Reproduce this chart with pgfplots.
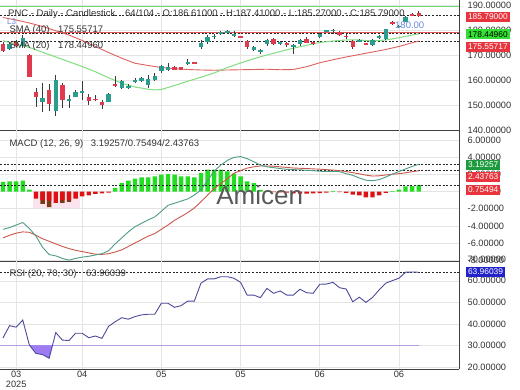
\documentclass[border=0pt]{standalone}
\usepackage{pgfplots}
\pgfplotsset{compat=1.18}
\usepackage{pgfplotstable}
\usepackage{fontspec}
\setmainfont{Liberation Sans}

\definecolor{txt}{HTML}{333333}
\definecolor{gridc}{HTML}{E4E4E4}
\definecolor{upc}{HTML}{2A9D8F}
\definecolor{downc}{HTML}{E03A4E}
\definecolor{wick}{HTML}{3A3A3A}
\definecolor{smaA}{HTML}{80DD80}
\definecolor{smaB}{HTML}{E06060}
\definecolor{hgreen}{HTML}{70DD70}
\definecolor{hred}{HTML}{E05555}
\definecolor{boxred}{HTML}{E8343C}
\definecolor{boxgreen}{HTML}{33E033}
\definecolor{boxdkgreen}{HTML}{1E9A3E}
\definecolor{boxblue}{HTML}{2222CC}
\definecolor{histg}{HTML}{22DD22}
\definecolor{histr}{HTML}{DD1111}
\definecolor{histbr}{HTML}{7A3A14}
\definecolor{pinkbg}{HTML}{FCE4EF}
\definecolor{macdc}{HTML}{4F9C86}
\definecolor{sigc}{HTML}{C9574A}
\definecolor{rsic}{HTML}{4B4A9C}
\definecolor{rsifill}{HTML}{9C7CF0}
\definecolor{rsiline}{HTML}{B49EE0}
\definecolor{lblue}{HTML}{6A8AE0}

\newcommand\fs{\fontsize{9.5}{10}\selectfont}
\newcommand\ft{\fontsize{9.2}{10}\selectfont}
\newcommand\fb{\fontsize{8.4}{9}\selectfont}

\pgfplotstableread{
i o h l c
1 172.5 175.2 172.0 174.5
3 173.6 177.8 173.3 176.9
6 151.0 158.7 147.2 152.9
8 147.4 161.8 145.4 159.8
10 151.6 153.9 148.8 152.4
11 153.3 156.1 153.0 155.3
12 155.1 159.6 152.0 155.4
16 151.3 154.6 151.0 154.2
18 156.8 160.0 156.2 159.4
19 157.0 158.2 156.3 157.5
20 159.4 160.6 158.9 159.8
21 159.4 161.3 159.1 160.9
22 158.1 162.0 156.7 160.5
23 160.1 162.7 159.4 161.4
24 163.4 166.1 162.7 165.4
25 164.1 166.9 163.7 165.0
28 166.3 168.4 166.0 167.0
30 173.0 176.0 172.5 174.9
31 175.2 177.8 174.2 177.3
32 177.3 178.5 176.4 177.7
33 178.3 179.5 177.8 179.1
34 179.2 179.9 178.9 179.3
35 177.5 179.5 177.3 178.3
38 172.0 173.5 171.6 173.0
39 171.2 172.5 170.5 172.0
40 174.2 176.2 173.6 175.8
42 174.5 175.6 173.8 175.2
44 173.4 174.5 170.2 173.8
45 174.2 176.5 173.6 175.8
48 177.3 178.6 176.9 178.2
49 179.6 180.1 179.1 179.8
50 179.8 180.4 178.5 180.0
54 175.4 176.3 175.0 175.9
56 173.9 176.3 173.5 175.9
57 176.8 177.8 176.5 177.5
58 176.3 180.5 175.9 180.2
60 181.3 182.0 180.8 181.7
61 183.2 185.4 183.0 185.2
}\upcandles

\pgfplotstableread{
i o h l c
0 174.3 175.0 171.1 171.7
2 175.0 175.8 173.0 173.5
4 170.0 170.3 161.0 161.3
5 155.3 156.8 149.2 153.1
7 156.0 158.5 147.4 150.3
9 157.9 158.7 148.8 152.0
13 153.3 154.3 150.0 151.6
14 152.3 153.9 151.7 152.1
15 151.3 152.0 148.4 150.0
17 158.2 161.5 157.1 157.9
26 165.3 165.6 163.8 164.0
27 165.1 165.3 163.8 164.0
29 167.1 167.3 166.7 166.8
36 177.4 177.7 176.9 177.2
37 175.5 175.8 172.5 173.0
41 176.2 176.6 173.8 174.2
43 174.6 175.2 173.1 174.4
46 176.4 177.1 174.8 174.9
47 175.0 175.3 173.9 174.8
51 179.2 179.5 177.5 177.9
52 177.6 178.2 176.2 177.4
53 175.5 175.9 172.5 173.0
55 174.7 174.9 174.1 174.4
59 183.2 183.6 181.8 182.2
62 186.3 186.8 185.6 185.9
63 186.61 187.41 185.27 185.79
}\downcandles

\tikzset{
  vbox/.style={anchor=west, xshift=6.8pt, font=\fb, inner xsep=2pt, inner ysep=1.6pt, text height=6.1pt, text depth=0.4pt},
  dots/.style={draw=black!85, line width=0.9pt, dash pattern=on 2pt off 1.6pt},
  captxt/.style={anchor=base west, inner sep=0pt, font=\fs, text=txt},
}

\pgfplotsset{
  panel/.style={
    scale only axis, width=459pt, anchor=south west,
    xmin=-0.45, xmax=69.1,
    axis x line*=bottom, axis y line*=right,
    axis line style={-, draw=black!75, line width=0.8pt},
    xtick={2,12,24,36,48,60},
    xmajorgrids, ymajorgrids,
    grid style={draw=gridc, line width=0.6pt},
    major tick length=0pt,
    tick label style={font=\ft, color=txt},
    yticklabel style={anchor=west, inner sep=0pt, xshift=8.5pt},
    yticklabel={\pgfmathprintnumber[fixed,fixed zerofill,precision=5,1000 sep={},assume math mode=true]{\tick}},
    clip mode=individual,
  },
}

\begin{document}
\begin{tikzpicture}
\useasboundingbox (0pt,0pt) rectangle (520pt,390pt);
\fill[white] (0pt,0pt) rectangle (520pt,390pt);

% ---------------- main price panel
\begin{axis}[panel, at={(0pt,260pt)}, height=130pt,
  ymin=140, ymax=192, ytick={140,150,...,190}, xticklabels={},
  after end axis/.code={
    \node[vbox, fill=boxred, text=white] at (axis cs:69.1,185.2) {185.79000};
    \node[vbox, fill=boxgreen, text=black] at (axis cs:69.1,178.3) {178.44960};
    \node[vbox, fill=boxred, text=white] at (axis cs:69.1,173.3) {175.55717};
  }]
\addplot[hgreen, line width=0.9pt, mark=none] coordinates {(-0.45,189.6) (69.1,189.6)};
\addplot[hred, line width=0.9pt, mark=none] coordinates {(-0.45,179.1) (69.1,179.1)};
\addplot[dots, mark=none] coordinates {(-0.45,185.79) (69.1,185.79)};
\addplot[dots, mark=none] coordinates {(-0.45,178.4496) (69.1,178.4496)};
\addplot[dots, mark=none] coordinates {(-0.45,175.55717) (69.1,175.55717)};
% SMA 40
\addplot[smaB, line width=0.9pt, mark=none] coordinates {
(0,185.0) (2,184.0) (4,182.8) (6,181.4) (8,179.7) (10,178.0) (12,175.8) (14,173.4)
(16,171.0) (18,168.7) (20,166.7) (22,165.8) (24,165.0) (26,164.5) (28,164.2) (30,164.0)
(32,163.9) (34,164.0) (36,164.1) (38,164.2) (40,164.3) (42,164.1) (44,164.2) (46,165.3)
(48,166.9) (50,168.1) (52,169.2) (54,170.2) (56,171.2) (58,172.2) (60,173.4) (62,174.9) (63,175.55717)};
% SMA 20
\addplot[smaA, line width=1pt, mark=none] coordinates {
(0,175.7) (2,174.3) (4,173.0) (6,171.1) (8,169.2) (10,167.3) (12,165.4) (14,163.3)
(16,160.9) (18,158.7) (20,157.2) (22,156.3) (23,156.0) (24,156.2) (26,157.8) (28,159.5)
(30,161.1) (32,162.8) (34,165.0) (36,166.8) (38,168.5) (40,170.0) (42,171.4) (44,172.7)
(46,173.9) (48,175.0) (50,175.6) (52,176.0) (54,176.0) (56,175.6) (58,176.0) (60,176.9) (62,178.0) (63,178.4496)};
% wicks
\addplot[forget plot, draw=none, mark=none, error bars/.cd, y dir=both, y explicit, error mark=none,
  error bar style={line width=0.9pt, draw=wick}]
  table[x=i, y expr=(\thisrow{h}+\thisrow{l})/2, y error expr=(\thisrow{h}-\thisrow{l})/2] {\upcandles};
\addplot[forget plot, draw=none, mark=none, error bars/.cd, y dir=both, y explicit, error mark=none,
  error bar style={line width=0.9pt, draw=wick}]
  table[x=i, y expr=(\thisrow{h}+\thisrow{l})/2, y error expr=(\thisrow{h}-\thisrow{l})/2] {\downcandles};
% bodies
\addplot[forget plot, draw=none, mark=none, error bars/.cd, y dir=both, y explicit, error mark=none,
  error bar style={line width=4.4pt, draw=upc}]
  table[x=i, y expr=(\thisrow{o}+\thisrow{c})/2, y error expr={max(abs(\thisrow{c}-\thisrow{o})/2,0.22)}] {\upcandles};
\addplot[forget plot, draw=none, mark=none, error bars/.cd, y dir=both, y explicit, error mark=none,
  error bar style={line width=4.4pt, draw=downc}]
  table[x=i, y expr=(\thisrow{o}+\thisrow{c})/2, y error expr={max(abs(\thisrow{c}-\thisrow{o})/2,0.22)}] {\downcandles};
\end{axis}

% ---------------- MACD panel
\begin{axis}[panel, at={(0pt,129pt)}, height=131pt,
  ymin=-8.1, ymax=7.2, ytick={-8,-6,...,6}, xticklabels={},
  after end axis/.code={
    \node[font=\fontsize{26}{28}\selectfont, text=black!65] at (axis cs:38.9,-0.45) {Amicen};
    \node[vbox, fill=boxdkgreen, text=white] at (axis cs:69.1,3.11) {3.19257};
    \node[vbox, fill=boxred, text=white] at (axis cs:69.1,1.75) {2.43763};
    \node[vbox, fill=boxred, text=white] at (axis cs:69.1,0.19) {0.75494};
  }]
\addplot[fill=pinkbg, draw=none, mark=none] coordinates {(4.6,0) (4.6,-1.87) (11.6,-1.87) (11.6,0)};
\addplot[ybar, bar width=4.4pt, bar shift=0pt, fill=histg, draw=none] coordinates {
(0,1.13) (1,1.2) (2,1.2) (3,1.28) (4,0.23) (17,0.43) (18,1.0) (19,1.28) (20,1.51) (21,1.66)
(22,1.66) (23,1.78) (24,1.98) (25,2.05) (26,1.98) (27,1.78) (28,1.78) (29,1.66) (30,2.17)
(31,2.56) (32,2.56) (33,2.56) (34,2.36) (35,2.1) (36,1.78) (37,1.2) (38,1.0) (39,0.2) (40,0.1)
(50,0.08) (59,0.05) (60,0.25) (61,0.62) (62,0.65) (63,0.75494)};
\addplot[ybar, bar width=4.4pt, bar shift=0pt, fill=histbr, draw=none] coordinates {
(6,-1.43) (7,-1.82) (9,-1.32) (10,-1.2)};
\addplot[ybar, bar width=4.4pt, bar shift=0pt, fill=histr, draw=none] coordinates {
(5,-0.81) (6,-1.0) (7,-1.05) (8,-1.32) (9,-1.0) (10,-1.0) (11,-0.81) (12,-0.54) (13,-0.43)
(14,-0.27) (15,-0.2) (16,-0.1) (41,-0.05) (42,-0.08) (43,-0.1) (44,-0.2) (45,-0.22) (46,-0.22)
(47,-0.2) (48,-0.18) (49,-0.1) (51,-0.05) (52,-0.15) (53,-0.35) (54,-0.45) (55,-0.68)
(56,-0.68) (57,-0.45) (58,-0.15)};
\addplot[dots, mark=none] coordinates {(-0.45,3.19257) (69.1,3.19257)};
\addplot[dots, mark=none] coordinates {(-0.45,2.43763) (69.1,2.43763)};
\addplot[dots, mark=none] coordinates {(-0.45,0.75494) (69.1,0.75494)};
% signal
\addplot[sigc, line width=0.9pt, mark=none] coordinates {
(0,-5.4) (1,-5.1) (2,-4.85) (3,-4.7) (4,-4.75) (5,-5.1) (6,-5.5) (7,-5.8) (8,-6.1) (9,-6.4)
(10,-6.65) (11,-6.85) (12,-7.0) (13,-7.15) (14,-7.3) (15,-7.33) (16,-7.25) (17,-7.05) (18,-6.8)
(19,-6.4) (20,-6.0) (21,-5.6) (22,-5.2) (23,-4.9) (24,-4.4) (25,-3.9) (26,-3.35) (27,-2.9)
(28,-2.45) (29,-1.9) (30,-1.2) (31,-0.4) (32,0.35) (33,0.95) (34,1.5) (35,2.15) (36,2.45)
(37,2.75) (38,2.9) (39,3.0) (40,3.0) (41,2.97) (42,2.9) (43,2.83) (44,2.76) (45,2.73) (46,2.7)
(47,2.66) (48,2.62) (49,2.57) (50,2.52) (51,2.45) (52,2.35) (53,2.22) (54,2.08) (55,1.93)
(56,1.82) (57,1.85) (58,1.95) (59,2.03) (60,2.1) (61,2.2) (62,2.33) (63,2.43763)};
% MACD
\addplot[macdc, line width=0.9pt, mark=none] coordinates {
(0,-4.4) (1,-4.2) (2,-3.9) (3,-3.6) (4,-4.3) (5,-5.2) (6,-6.5) (7,-7.35) (8,-7.5) (9,-7.8)
(10,-8.0) (11,-7.8) (12,-7.65) (13,-7.55) (14,-7.4) (15,-7.25) (16,-6.9) (17,-6.1) (18,-5.4)
(19,-4.7) (20,-4.1) (21,-3.7) (22,-3.3) (23,-2.95) (24,-2.3) (25,-1.6) (26,-1.35) (27,-1.1)
(28,-0.85) (29,-0.4) (30,0.2) (31,1.3) (32,2.4) (33,3.1) (34,3.65) (35,4.0) (36,4.1) (37,3.85)
(38,3.5) (39,3.1) (40,2.9) (41,2.8) (42,2.7) (43,2.6) (44,2.57) (45,2.55) (46,2.5) (47,2.45)
(48,2.38) (49,2.36) (50,2.36) (51,2.34) (52,2.1) (53,1.9) (54,1.6) (55,1.33) (56,1.28) (57,1.4)
(58,1.7) (59,2.05) (60,2.35) (61,2.65) (62,2.95) (63,3.19257)};
\end{axis}

% ---------------- RSI panel
\begin{axis}[panel, at={(0pt,21pt)}, height=108pt,
  ymin=19.1, ymax=69.2, ytick={20,30,...,60},
  xticklabels={{03\\2025},04,05,05,06,06},
  xticklabel style={align=center, anchor=north, inner sep=2pt, font=\ft, color=txt},
  after end axis/.code={
    \node[anchor=west, inner sep=0pt, xshift=8.5pt, font=\ft, text=txt] at (axis cs:69.1,70) {70.00000};
    \node[vbox, fill=boxblue, text=white] at (axis cs:69.1,64.1) {63.96039};
  }]
\addplot[rsiline, line width=1.3pt, mark=none] coordinates {(-0.45,30) (63,30)};
\addplot[fill=rsifill, draw=none, mark=none] coordinates {(4.05,30) (5,26.3) (6,25.8) (7,24.1) (7.49,30)};
\addplot[dots, mark=none] coordinates {(-0.45,63.96039) (69.1,63.96039)};
\addplot[rsic, line width=0.9pt, mark=none] coordinates {
(0,33.5) (1,39.2) (2,38.5) (3,41.8) (4,30.2) (5,26.3) (6,25.8) (7,24.1) (8,36.0) (9,32.5)
(10,32.3) (11,35.7) (12,35.7) (13,33.6) (14,34.4) (15,33.3) (16,38.9) (17,41.0) (18,42.9)
(19,42.2) (20,43.4) (21,44.2) (22,44.5) (23,44.5) (24,49.6) (25,49.6) (26,47.7) (27,48.5)
(28,50.6) (29,50.6) (30,58.9) (31,60.9) (32,60.9) (33,61.9) (34,61.9) (35,61.2) (36,59.3)
(37,53.4) (38,53.4) (39,52.2) (40,56.5) (41,54.2) (42,55.3) (43,53.4) (44,53.4) (45,56.1)
(46,54.5) (47,54.2) (48,58.4) (49,58.5) (50,59.3) (51,56.8) (52,56.2) (53,50.3) (54,52.4)
(55,50.0) (56,52.3) (57,55.8) (58,58.9) (59,60.1) (60,61.2) (61,64.0) (62,64.1) (63,63.96039)};
\end{axis}

% ---------------- panel captions
\node[captxt] at (8pt,373.5pt) {PNC - Daily - Candlestick};
\node[captxt] at (125pt,373.5pt) {64/104 - O:186.61000 - H:187.41000 - L:185.27000 - C:185.79000};
\node[captxt, font=\fontsize{8}{9}\selectfont, text=lblue] at (7pt,365pt) {L3};
\node[captxt] at (9.3pt,357.2pt) {SMA (40)};
\node[captxt] at (58pt,357.2pt) {175.55717};
\node[captxt] at (9.3pt,341pt) {SMA (20)};
\node[captxt] at (58pt,341pt) {178.44960};
\node[captxt, text=lblue] at (395pt,361.7pt) {180.00};
\node[captxt] at (9.3pt,243.7pt) {MACD (12, 26, 9)};
\node[captxt] at (90.7pt,243.7pt) {3.19257/0.75494/2.43763};
\node[captxt] at (9.3pt,113pt) {RSI (20, 70, 30)};
\node[captxt] at (86pt,113pt) {63.96039};
\end{tikzpicture}
\end{document}
